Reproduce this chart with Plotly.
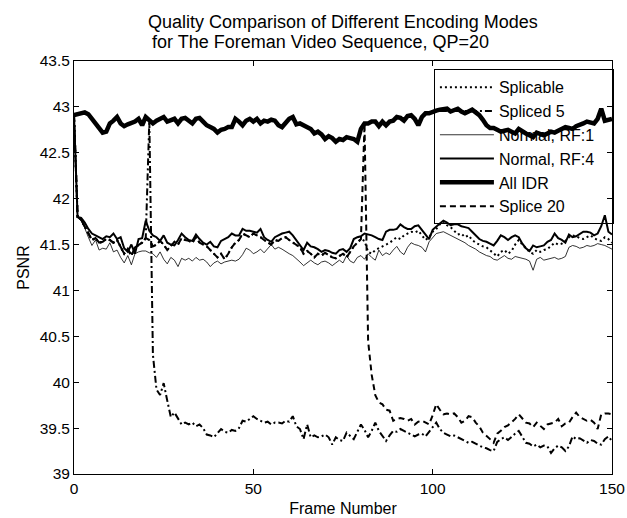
import plotly.graph_objects as go

# ---------------- data ----------------
all_idr = [42.91, 42.92, 42.93, 42.94, 42.92, 42.87, 42.82, 42.76, 42.72, 42.73,
           42.82, 42.85, 42.89, 42.82, 42.79, 42.81, 42.82, 42.84, 42.87, 42.80,
           42.89, 42.85, 42.82, 42.85, 42.87, 42.89, 42.84, 42.86, 42.87, 42.82,
           42.87, 42.88, 42.85, 42.82, 42.87, 42.88, 42.84, 42.80, 42.78, 42.76,
           42.72, 42.75, 42.76, 42.78, 42.78, 42.87, 42.84, 42.80, 42.85, 42.87,
           42.84, 42.87, 42.82, 42.85, 42.84, 42.86, 42.85, 42.80, 42.78, 42.83,
           42.87, 42.89, 42.81, 42.82, 42.80, 42.77, 42.76, 42.71, 42.73, 42.70,
           42.65, 42.68, 42.66, 42.62, 42.65, 42.64, 42.67, 42.66, 42.65, 42.62,
           42.76, 42.82, 42.82, 42.84, 42.84, 42.79, 42.84, 42.80, 42.84, 42.85,
           42.89, 42.88, 42.85, 42.90, 42.91, 42.87, 42.80, 42.89, 42.93, 42.93,
           42.95, 42.96, 42.97, 42.97, 42.98, 42.95, 42.96, 42.98, 42.95, 42.93,
           42.95, 42.97, 42.94, 42.91, 42.86, 42.80, 42.77, 42.77, 42.75, 42.73,
           42.74, 42.75, 42.73, 42.71, 42.76, 42.73, 42.71, 42.69, 42.67, 42.72,
           42.70, 42.69, 42.71, 42.73, 42.72, 42.74, 42.76, 42.78, 42.77, 42.76,
           42.79, 42.80, 42.82, 42.84, 42.83, 42.82, 42.87, 42.98, 42.85, 42.86,
           42.87]

normal_rf4 = [42.91, 41.80, 41.79, 41.74, 41.67, 41.62, 41.60, 41.58, 41.56, 41.59,
              41.58, 41.62, 41.56, 41.58, 41.46, 41.42, 41.50, 41.40, 41.56, 41.57,
              41.76, 41.65, 41.60, 41.58, 41.54, 41.60, 41.52, 41.50, 41.49, 41.55,
              41.62, 41.58, 41.55, 41.54, 41.61, 41.56, 41.52, 41.50, 41.53, 41.48,
              41.47, 41.54, 41.56, 41.58, 41.62, 41.60, 41.60, 41.67, 41.65, 41.65,
              41.64, 41.63, 41.67, 41.58, 41.55, 41.53, 41.58, 41.60, 41.62, 41.63,
              41.64, 41.60, 41.55, 41.50, 41.44, 41.52, 41.48, 41.47, 41.45, 41.42,
              41.44, 41.43, 41.41, 41.40, 41.44, 41.45, 41.42, 41.46, 41.56, 41.58,
              41.59, 41.62, 41.61, 41.60, 41.58, 41.56, 41.55, 41.64, 41.66, 41.66,
              41.67, 41.72, 41.69, 41.67, 41.67, 41.70, 41.71, 41.66, 41.62, 41.56,
              41.66, 41.70, 41.73, 41.76, 41.74, 41.71, 41.72, 41.72, 41.70, 41.69,
              41.68, 41.64, 41.60, 41.56, 41.54, 41.53, 41.51, 41.49, 41.54, 41.60,
              41.58, 41.55, 41.58, 41.60, 41.58, 41.51, 41.46, 41.43, 41.49, 41.47,
              41.48, 41.49, 41.53, 41.55, 41.62, 41.57, 41.55, 41.52, 41.61, 41.58,
              41.59, 41.62, 41.64, 41.64, 41.63, 41.60, 41.62, 41.70, 41.82, 41.64,
              41.61]

normal_rf1 = [42.91, 41.80, 41.76, 41.68, 41.58, 41.49, 41.55, 41.44, 41.46, 41.45,
              41.52, 41.42, 41.44, 41.36, 41.30, 41.38, 41.28, 41.40, 41.42, 41.43,
              41.43, 41.41, 41.40, 41.36, 41.42, 41.34, 41.29, 41.36, 41.33, 41.26,
              41.35, 41.33, 41.35, 41.32, 41.36, 41.33, 41.34, 41.31, 41.26, 41.30,
              41.32, 41.29, 41.31, 41.32, 41.33, 41.32, 41.34, 41.39, 41.46, 41.44,
              41.40, 41.42, 41.45, 41.41, 41.45, 41.50, 41.45, 41.47, 41.45, 41.42,
              41.40, 41.38, 41.35, 41.31, 41.27, 41.30, 41.33, 41.30, 41.28, 41.31,
              41.32, 41.30, 41.27, 41.30, 41.33, 41.30, 41.38, 41.32, 41.30, 41.36,
              41.38, 41.34, 41.40, 41.36, 41.33, 41.44, 41.38, 41.41, 41.39, 41.44,
              41.48, 41.42, 41.39, 41.47, 41.52, 41.50, 41.49, 41.47, 41.42, 41.53,
              41.57, 41.62, 41.63, 41.64, 41.62, 41.60, 41.58, 41.56, 41.54, 41.52,
              41.49, 41.47, 41.45, 41.42, 41.40, 41.38, 41.37, 41.34, 41.33, 41.36,
              41.38, 41.35, 41.34, 41.37, 41.36, 41.35, 41.34, 41.32, 41.22, 41.34,
              41.36, 41.33, 41.34, 41.35, 41.36, 41.34, 41.35, 41.37, 41.47, 41.49,
              41.48, 41.46, 41.47, 41.49, 41.48, 41.49, 41.51, 41.50, 41.49, 41.47,
              41.45]

splicable = [42.91, 41.80, 41.77, 41.70, 41.62, 41.55, 41.57, 41.52, 41.53, 41.56,
             41.55, 41.52, 41.55, 41.48, 41.40, 41.45, 41.38, 41.47, 41.50, 41.52,
             41.57, 41.55, 41.48, 41.50, 41.54, 41.50, 41.44, 41.48, 41.53, 41.50,
             41.57, 41.55, 41.54, 41.52, 41.58, 41.52, 41.50, 41.48, 41.44, 41.40,
             41.36, 41.40, 41.34, 41.40, 41.47, 41.52, 41.55, 41.62, 41.60, 41.58,
             41.62, 41.60, 41.58, 41.55, 41.52, 41.50, 41.55, 41.54, 41.57, 41.58,
             41.55, 41.52, 41.50, 41.47, 41.40, 41.43, 41.40, 41.36, 41.40, 41.38,
             41.41, 41.38, 41.36, 41.35, 41.38, 41.40, 41.36, 41.42, 41.48, 41.52,
             41.56, 41.54, 41.42, 41.40, 41.44, 41.46, 41.48, 41.50, 41.52, 41.55,
             41.58, 41.56, 41.60, 41.62, 41.64, 41.63, 41.65, 41.60, 41.55, 41.58,
             41.64, 41.67, 41.72, 41.75, 41.71, 41.69, 41.65, 41.61, 41.62, 41.58,
             41.60, 41.55, 41.52, 41.50, 41.48, 41.47, 41.44, 41.40, 41.37, 41.42,
             41.44, 41.40, 41.43, 41.50, 41.55, 41.50, 41.46, 41.42, 41.40, 41.44,
             41.42, 41.44, 41.45, 41.48, 41.52, 41.50, 41.51, 41.54, 41.58, 41.60,
             41.59, 41.57, 41.56, 41.58, 41.60, 41.57, 41.55, 41.54, 41.58, 41.56,
             41.52]

# Spliced 5: same stream as "Splicable" up to frame 20, then frames 21..150
spliced5_after = [42.85, 40.30, 39.92, 39.86, 39.99, 39.80, 39.62, 39.67, 39.60,
                  39.54, 39.56, 39.54, 39.56, 39.52, 39.54, 39.50, 39.43, 39.42, 39.40,
                  39.44, 39.49, 39.46, 39.45, 39.48, 39.47, 39.50, 39.58, 39.57, 39.60,
                  39.63, 39.60, 39.58, 39.56, 39.57, 39.54, 39.56, 39.56, 39.55, 39.58,
                  39.57, 39.63, 39.52, 39.49, 39.38, 39.54, 39.40, 39.42, 39.40, 39.41,
                  39.43, 39.40, 39.32, 39.40, 39.37, 39.36, 39.45, 39.41, 39.38, 39.46,
                  39.54, 39.48, 39.40, 39.47, 39.56, 39.47, 39.42, 39.36, 39.42, 39.47,
                  39.46, 39.49, 39.47, 39.45, 39.43, 39.41, 39.43, 39.44, 39.41, 39.46,
                  39.50, 39.56, 39.49, 39.45, 39.43, 39.41, 39.42, 39.40, 39.38, 39.36,
                  39.34, 39.35, 39.33, 39.31, 39.29, 39.28, 39.26, 39.25, 39.35, 39.38,
                  39.40, 39.37, 39.41, 39.44, 39.47, 39.40, 39.34, 39.33, 39.30, 39.32,
                  39.29, 39.31, 39.30, 39.23, 39.28, 39.31, 39.29, 39.25, 39.30, 39.41,
                  39.38, 39.39, 39.36, 39.34, 39.37, 39.36, 39.33, 39.32, 39.38, 39.41,
                  39.36]

# Splice 20: same stream as "Splicable" up to frame 80, then frames 81..150
splice20_after = [42.82, 40.45, 40.08, 39.86, 39.78, 39.76, 39.70, 39.69, 39.58, 39.60,
                  39.61, 39.60, 39.58, 39.60, 39.54, 39.57, 39.58, 39.56, 39.54, 39.64,
                  39.76, 39.70, 39.65, 39.66, 39.65, 39.66, 39.62, 39.56, 39.58, 39.63,
                  39.62, 39.56, 39.52, 39.45, 39.42, 39.38, 39.34, 39.44, 39.47, 39.51,
                  39.53, 39.56, 39.60, 39.65, 39.60, 39.56, 39.55, 39.51, 39.56, 39.52,
                  39.49, 39.54, 39.55, 39.56, 39.60, 39.52, 39.55, 39.56, 39.62, 39.67,
                  39.62, 39.60, 39.58, 39.59, 39.56, 39.49, 39.65, 39.66, 39.66, 39.65]

spliced5 = splicable[:21] + spliced5_after
splice20 = splicable[:81] + splice20_after

x_ticks = [0, 50, 100, 150]
y_ticks = [39, 39.5, 40, 40.5, 41, 41.5, 42, 42.5, 43, 43.5]
y_tick_labels = ["39", "39.5", "40", "40.5", "41", "41.5", "42", "42.5", "43", "43.5"]

title_line1 = "Quality Comparison of Different Encoding Modes"
title_line2 = "for The Foreman Video Sequence, QP=20"

FONT = "Liberation Sans, Arial, sans-serif"
PAD = "\u00a0\u00a0\u00a0"  # invisible padding so the legend box is as wide as the reference's

series = [
    ("Splicable", splicable, dict(width=2, dash="2px,3px")),
    ("Spliced 5", spliced5, dict(width=2, dash="7px,3px,2px,3px")),
    ("Normal, RF:1", normal_rf1, dict(width=0.8)),
    ("Normal, RF:4" + PAD, normal_rf4, dict(width=2)),
    ("All IDR", all_idr, dict(width=4.5)),
    ("Splice 20", splice20, dict(width=2, dash="6px,4px")),
]

fig = go.Figure()
for name, ys, style in series:
    fig.add_trace(go.Scatter(
        x=list(range(len(ys))), y=ys, mode="lines", name=name,
        line=dict(color="black", **style),
    ))

axis_common = dict(
    showline=True, linecolor="black", linewidth=1, mirror="ticks",
    ticks="inside", ticklen=5, tickcolor="black", showgrid=False, zeroline=False,
    automargin=False,
    tickfont=dict(family=FONT, size=15.5, color="black"),
)

fig.update_layout(
    width=627, height=518,
    margin=dict(l=74, r=15, t=61, b=44),
    paper_bgcolor="white", plot_bgcolor="white",
    font=dict(family=FONT, size=16, color="black"),
    xaxis=dict(range=[0, 150], tickvals=x_ticks,
               title=dict(text="Frame Number", standoff=7, font=dict(family=FONT, size=16)),
               **axis_common),
    yaxis=dict(range=[39, 43.5], tickvals=y_ticks, ticktext=y_tick_labels,
               title=dict(text="PSNR", standoff=6, font=dict(family=FONT, size=16)),
               **axis_common),
    legend=dict(
        x=0.669, y=0.98, xanchor="left", yanchor="top",
        bgcolor="rgba(255,255,255,0)", bordercolor="black", borderwidth=1,
        font=dict(family=FONT, size=16, color="black"),
        itemwidth=54, tracegroupgap=0,
    ),
    showlegend=True,
    annotations=[
        dict(text=title_line1, xref="paper", yref="paper", x=0.5, y=1.0952,
             xanchor="center", yanchor="middle", showarrow=False,
             font=dict(family=FONT, size=18, color="black")),
        dict(text=title_line2, xref="paper", yref="paper", x=0.1413, y=1.0467,
             xanchor="left", yanchor="middle", showarrow=False,
             font=dict(family=FONT, size=18, color="black")),
    ],
)

# remove the browser's default 8px page margin so the figure sits at the window origin
fig.write_html("out.html",
               config={"displayModeBar": False},
               post_script="document.body.style.margin='0';document.body.style.overflow='hidden';")
